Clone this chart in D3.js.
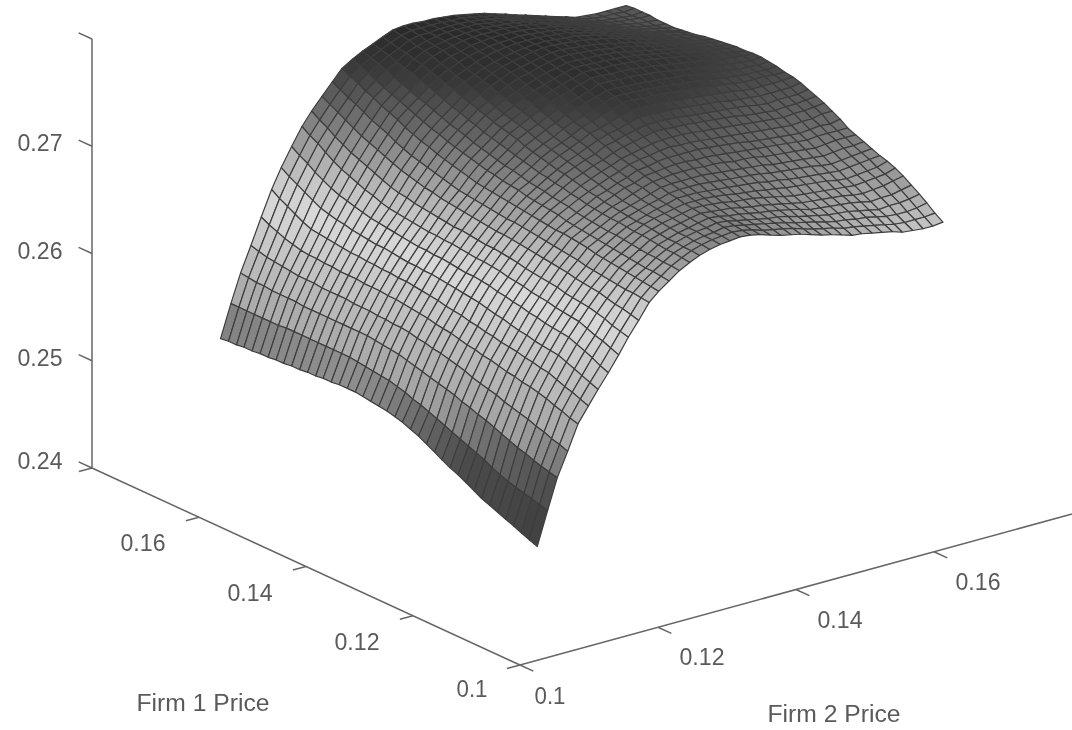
<!DOCTYPE html>
<html>
<head>
<meta charset="utf-8">
<script src="https://d3js.org/d3.v7.min.js"></script>
<style>
  html, body { margin: 0; background: #fff; }
  text { font-family: "Liberation Sans", Arial, sans-serif; font-size: 23px; fill: #5a5a5a; }
</style>
</head>
<body>
<div class="chart"></div>
<script>
var svgWidth = 1072;
var svgHeight = 730;

// mesh positions
var firm1Prices = [0.1000,0.1015,0.1030,0.1044,0.1059,0.1074,0.1089,0.1104,0.1118,0.1133,0.1148,0.1163,0.1178,0.1192,0.1207,0.1222,0.1237,0.1252,0.1266,0.1281,0.1296,0.1311,0.1326,0.1340,0.1355,0.1370,0.1385,0.1400,0.1414,0.1429,0.1444,0.1459,0.1474,0.1488,0.1503,0.1518,0.1533,0.1548,0.1562,0.1577,0.1592];
var firm2Prices = [0.1025,0.1040,0.1054,0.1069,0.1084,0.1099,0.1113,0.1128,0.1143,0.1157,0.1172,0.1187,0.1201,0.1216,0.1231,0.1246,0.1260,0.1275,0.1290,0.1304,0.1319,0.1334,0.1348,0.1363,0.1378,0.1393,0.1407,0.1422,0.1437,0.1451,0.1466,0.1481,0.1495,0.1510,0.1525,0.1540,0.1554,0.1569,0.1584,0.1598,0.1613];

var firm1Ticks = [0.1, 0.12, 0.14, 0.16];
var firm2Ticks = [0.1, 0.12, 0.14, 0.16];
var heightTicks = [0.24, 0.25, 0.26, 0.27, 0.28];
var heightTickLabels = ["0.24", "0.25", "0.26", "0.27"];

// surface height, one row per firm 2 price, one column per firm 1 price
// stored in units of 0.0001 above 0.24
var heightRows = [
[106,109,112,115,118,121,124,127,131,135,139,142,146,150,154,158,161,164,166,168,169,170,171,172,172,172,171,171,170,170,169,169,168,168,167,167,166,166,165,165,164],
[137,139,141,143,145,147,150,153,157,160,163,166,169,172,175,178,181,183,186,188,190,191,192,193,194,195,195,195,195,195,195,195,195,195,194,194,194,194,194,194,194],
[165,167,169,171,174,176,179,182,185,188,190,193,195,198,200,202,204,206,208,210,212,213,214,215,216,216,216,216,216,216,216,216,216,217,217,217,217,218,218,219,220],
[187,190,192,195,197,200,202,204,206,209,211,213,215,218,220,222,224,225,227,228,230,231,231,232,232,233,233,233,234,234,234,234,235,235,235,236,237,238,239,241,243],
[210,212,215,217,220,222,224,225,227,228,230,232,233,235,236,238,240,241,242,244,245,246,247,248,248,249,249,249,250,250,250,251,251,252,252,253,255,257,260,263,267],
[224,227,230,232,235,238,239,241,242,244,245,246,248,249,251,252,254,255,256,258,259,260,261,262,262,263,263,264,264,265,265,266,267,268,269,270,273,277,281,285,290],
[237,240,243,246,249,252,253,254,255,257,258,260,262,263,265,267,268,269,270,271,272,273,273,274,274,275,276,277,277,278,279,280,282,283,285,287,291,295,299,303,308],
[250,253,257,260,263,266,267,268,269,271,272,274,275,277,278,280,281,282,282,283,284,285,285,286,286,287,288,289,290,291,292,294,296,298,300,303,307,311,316,320,325],
[264,267,270,272,275,278,279,280,281,283,284,285,287,288,289,291,292,293,293,294,295,296,296,297,297,298,299,300,301,302,304,307,309,312,315,318,322,327,332,336,341],
[278,280,282,285,287,289,290,291,292,294,295,296,297,298,300,301,302,303,303,304,305,306,306,307,308,309,310,311,313,314,316,319,322,325,328,331,335,339,344,348,353],
[291,293,295,296,298,300,301,302,303,305,306,307,308,309,310,311,312,313,313,314,315,316,317,318,319,320,322,323,325,327,329,332,335,338,341,344,348,352,356,360,364],
[305,306,307,307,308,309,310,311,312,314,315,316,317,318,319,320,321,322,322,323,324,325,326,327,328,330,332,334,336,338,340,343,346,350,353,356,360,364,367,371,375],
[313,314,315,316,317,318,319,320,321,323,324,325,326,326,327,328,329,330,331,332,333,334,335,336,338,340,342,344,346,349,351,354,357,361,364,367,371,374,378,381,385],
[320,321,322,322,323,324,325,326,327,328,329,330,331,332,334,335,336,337,338,340,341,342,344,345,347,349,351,353,355,358,360,363,366,369,372,375,378,381,385,388,391],
[327,328,328,329,329,330,331,332,333,333,334,335,336,337,339,340,341,343,344,345,347,349,350,352,354,356,358,361,363,365,368,371,374,376,379,382,385,388,391,393,396],
[332,333,334,334,335,336,337,337,338,339,339,340,341,342,344,345,347,348,350,351,353,355,357,359,361,363,365,368,370,373,375,378,381,384,386,389,391,393,396,398,400],
[336,337,337,338,338,339,340,341,341,342,343,344,345,347,348,350,352,354,355,357,359,361,363,366,368,370,372,375,377,380,382,385,387,390,392,395,397,399,400,402,404],
[339,340,340,341,341,342,343,344,344,345,346,347,349,350,352,354,356,358,360,362,364,366,368,371,373,375,377,380,382,385,387,390,392,395,397,400,402,403,405,406,408],
[341,342,342,343,343,344,345,346,347,348,349,351,353,354,356,358,360,362,364,366,368,370,373,375,378,380,382,385,387,390,392,394,396,399,401,403,404,405,407,408,409],
[342,343,343,344,345,346,347,348,349,350,352,354,355,357,359,361,363,365,368,370,372,375,377,380,382,385,387,389,392,394,396,398,400,402,403,405,406,407,407,408,409],
[343,344,345,346,347,348,349,350,352,353,355,357,359,361,363,365,367,370,372,375,377,379,382,384,387,389,391,393,396,398,400,401,403,404,406,407,407,408,408,408,408],
[342,343,344,345,346,347,349,350,352,354,356,358,360,362,365,367,370,372,375,377,380,382,385,387,390,392,394,396,398,400,402,403,405,406,407,408,408,408,408,408,408],
[340,341,342,343,344,346,348,350,352,354,356,359,361,364,366,369,372,375,377,380,383,385,388,390,393,395,397,399,401,402,404,405,406,407,408,408,408,408,408,407,407],
[337,338,340,341,343,345,347,349,351,354,356,359,362,365,368,371,374,377,380,383,386,389,391,393,396,398,400,401,403,404,406,406,407,407,408,408,408,408,407,407,406],
[334,336,338,339,341,343,345,348,350,353,356,359,362,365,369,372,376,379,383,386,390,392,394,397,399,401,402,403,405,406,407,407,407,408,408,408,407,406,406,405,404],
[332,334,336,337,339,341,344,346,349,352,355,358,361,365,368,372,376,379,383,386,390,392,394,397,399,401,402,403,405,406,407,407,407,407,407,407,406,405,404,403,402],
[330,332,334,336,338,340,343,345,348,351,354,358,361,365,368,372,375,379,382,386,389,391,393,396,398,400,401,402,404,405,406,406,406,406,406,406,405,404,402,401,400],
[327,329,331,334,336,338,341,344,347,350,353,357,360,364,367,371,375,378,382,385,389,391,393,396,398,400,401,402,403,404,405,405,405,405,404,404,403,401,400,398,397],
[324,326,329,331,334,336,339,342,346,349,352,355,359,363,366,370,374,377,381,384,388,390,392,395,397,399,400,401,402,403,404,404,404,403,403,402,400,399,397,396,394],
[322,324,327,329,332,334,337,341,344,348,351,355,358,362,365,369,373,376,380,383,387,389,391,394,396,398,399,400,400,401,402,402,401,401,400,399,397,396,394,393,391],
[319,322,324,327,329,332,335,339,343,346,350,354,357,361,364,368,372,375,379,382,386,388,390,393,395,397,398,398,399,399,400,400,399,398,397,396,394,393,391,390,388],
[316,319,322,325,328,331,334,338,341,345,348,352,356,359,363,367,371,374,378,381,385,387,389,391,393,395,396,396,397,397,398,397,396,395,394,393,391,390,388,387,385],
[315,318,321,324,327,330,333,337,340,344,347,351,355,358,362,366,370,373,377,380,384,386,388,390,392,394,394,394,395,395,395,394,393,392,391,390,388,387,385,384,382],
[313,316,319,323,326,329,332,336,339,343,346,350,354,357,361,365,368,372,375,379,382,384,386,388,390,392,392,392,392,392,392,391,390,389,388,387,385,384,382,381,379],
[311,314,318,321,325,328,331,335,338,342,345,349,353,356,360,364,367,371,374,378,381,383,385,387,389,390,390,390,390,389,389,388,387,386,385,384,382,381,379,378,376],
[309,312,316,319,323,326,330,333,337,340,344,348,352,355,359,363,366,369,373,376,379,381,383,385,387,388,388,388,388,387,387,386,385,384,382,381,379,378,376,375,373],
[306,310,314,317,321,325,329,332,336,339,343,347,351,354,358,362,365,368,372,375,378,380,382,383,385,386,386,386,386,385,385,384,382,381,379,378,377,376,374,373,372],
[305,309,313,318,322,326,330,333,337,340,344,348,352,355,359,363,366,369,372,375,378,379,380,382,383,384,384,384,383,383,382,381,380,378,377,376,375,374,373,372,371],
[304,309,313,318,322,327,331,334,338,341,345,349,352,356,359,363,366,369,372,375,378,379,380,381,382,383,383,382,382,381,380,379,378,376,375,374,373,373,372,372,371],
[304,309,314,319,324,329,332,335,339,342,345,349,352,355,361,364,367,369,372,375,377,378,379,380,381,381,381,380,380,379,378,377,376,374,373,372,372,372,371,371,371],
[305,310,316,321,326,331,335,338,340,343,346,349,352,357,361,365,368,371,374,376,377,379,380,381,381,380,380,379,378,377,376,374,373,372,371,371,371,372,372,372,371]
];

// grey of a facet against its height
var shadeStops = [100, 150, 172, 190, 225, 280, 305, 335, 360, 372, 385, 395, 410];
var shadeGreys = ["#3a3a3a", "#4c4c4c", "#6e6e6e", "#a2a2a2", "#b8b8b8", "#d8d8d8", "#c4c4c4", "#949494", "#666666", "#555555", "#3c3c3c", "#313131", "#2b2b2b"];

// oblique projection, each axis gets its own screen x / y scale
var originX = 520;
var originY = 665;

var firm1X = d3.scaleLinear().domain([0.1, 0.18]).range([0, -428]);
var firm1Y = d3.scaleLinear().domain([0.1, 0.18]).range([0, -197]);
var firm2X = d3.scaleLinear().domain([0.1, 0.18]).range([0, 552]);
var firm2Y = d3.scaleLinear().domain([0.1, 0.18]).range([0, -151]);
var heightY = d3.scaleLinear().domain([0.24, 0.28]).range([0, -429]);
var shade = d3.scaleLinear().domain(shadeStops).range(shadeGreys);

function project(p1, p2, h) {
  return [
    originX + firm1X(p1) + firm2X(p2),
    originY + firm1Y(p1) + firm2Y(p2) + heightY(h)
  ];
}

var svg = d3.select(".chart")
  .append("svg")
  .attr("width", svgWidth)
  .attr("height", svgHeight)
  .style("display", "block");

// the scan of the original is a little soft
svg.append("defs").append("filter")
  .attr("id", "soft")
  .append("feGaussianBlur")
  .attr("stdDeviation", 0.45);

var chartGroup = svg.append("g").attr("filter", "url(#soft)");

// facets, far corner first so the near ones paint over
var facets = [];
for (var i = firm2Prices.length - 2; i >= 0; i--) {
  for (var j = firm1Prices.length - 2; j >= 0; j--) {
    var corners = [[i, j], [i, j + 1], [i + 1, j + 1], [i + 1, j]];
    facets.push({
      points: corners.map(function(c) {
        return project(firm1Prices[c[1]], firm2Prices[c[0]], 0.24 + heightRows[c[0]][c[1]] / 10000);
      }),
      level: d3.mean(corners, function(c) { return heightRows[c[0]][c[1]]; })
    });
  }
}

var facetLine = d3.line();

chartGroup.selectAll("path.facet")
  .data(facets)
  .enter()
  .append("path")
  .attr("class", "facet")
  .attr("d", function(d) { return facetLine(d.points) + "Z"; })
  .attr("fill", function(d) { return shade(d.level); })
  .attr("stroke", "#3e3e3e")
  .attr("stroke-width", 1.2)
  .attr("stroke-linejoin", "round");

// axes
var axisColor = "#666";

function axisLine(a, b) {
  chartGroup.append("line")
    .attr("x1", a[0]).attr("y1", a[1])
    .attr("x2", b[0]).attr("y2", b[1])
    .attr("stroke", axisColor)
    .attr("stroke-width", 1.5);
}

axisLine(project(0.1, 0.1, 0.24), project(0.18, 0.1, 0.24));
axisLine(project(0.1, 0.1, 0.24), project(0.1, 0.18, 0.24));
axisLine(project(0.18, 0.1, 0.24), project(0.18, 0.1, 0.28));

firm1Ticks.forEach(function(t) {
  axisLine(project(t, 0.1, 0.24), project(t, 0.0981, 0.24));
});
firm2Ticks.forEach(function(t) {
  axisLine(project(0.1, t, 0.24), project(0.0975, t, 0.24));
});
heightTicks.forEach(function(t) {
  axisLine(project(0.18, 0.1, t), project(0.1825, 0.1, t));
});
axisLine(project(0.18, 0.1, 0.24), project(0.18, 0.0981, 0.24));

function label(txt, x, y, width) {
  chartGroup.append("text")
    .attr("x", x)
    .attr("y", y)
    .attr("text-anchor", "middle")
    .attr("textLength", width)
    .attr("lengthAdjust", "spacingAndGlyphs")
    .text(txt);
}

heightTickLabels.forEach(function(t) {
  var p = project(0.18, 0.1, +t);
  label(t, 40, p[1] + (t == "0.24" ? 1 : 5), 45);
});

firm1Ticks.forEach(function(t) {
  var p = project(t, 0.1, 0.24);
  if (t == 0.1) label("0.1", p[0] - 48, p[1] + 32, 31);
  else label(String(t), p[0] - 56, p[1] + 34, 45);
});

firm2Ticks.forEach(function(t) {
  var p = project(0.1, t, 0.24);
  if (t == 0.1) label("0.1", p[0] + 30, p[1] + 39, 31);
  else label(String(t), p[0] + 44, p[1] + 38, 45);
});

label("Firm 1 Price", 203, 711, 133);
label("Firm 2 Price", 834, 722, 133);
</script>
</body>
</html>
